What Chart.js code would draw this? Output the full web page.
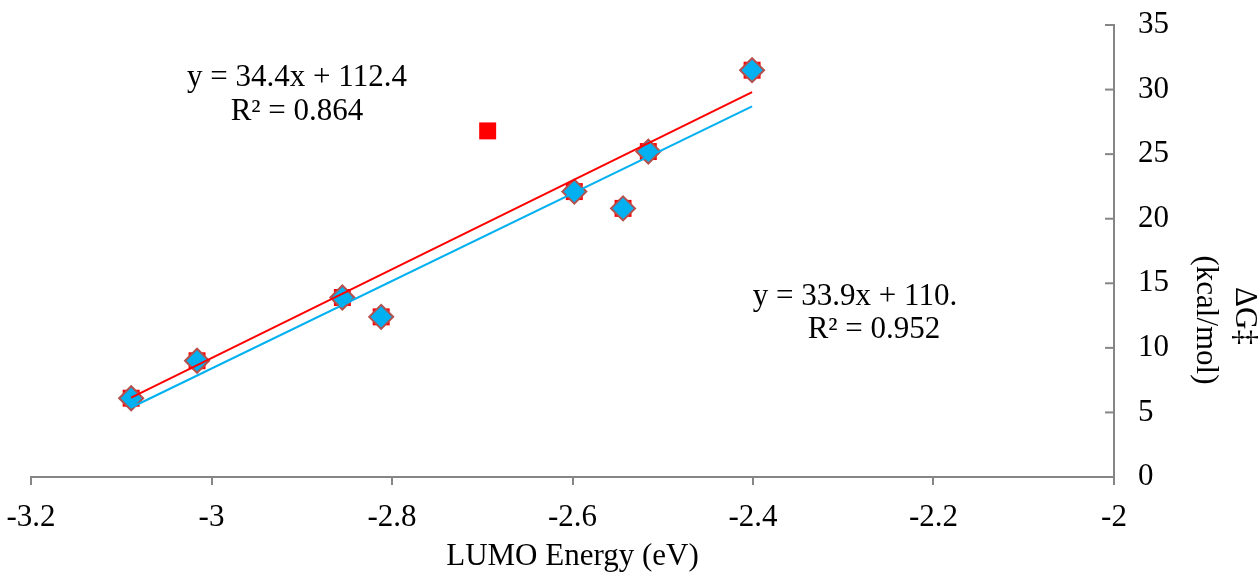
<!DOCTYPE html>
<html>
<head>
<meta charset="utf-8">
<script src="https://cdn.jsdelivr.net/npm/chart.js@4"></script>
<style>
  html, body { margin: 0; padding: 0; background: #fff; }
  #wrap { width: 1260px; height: 575px; }
</style>
</head>
<body>
<div id="wrap"><canvas id="chart" width="1260" height="575"></canvas></div>
<script>
// LUMO energy (eV) vs barrier (kcal/mol)
const lumoAll = [-3.089, -3.016, -2.855, -2.812, -2.598, -2.544, -2.516, -2.401, -2.694];
const dgAll   = [6.1, 9.0, 13.9, 12.4, 22.1, 20.8, 25.2, 31.5, 26.8];
// same set without the outlier
const lumoFit = [-3.089, -3.016, -2.855, -2.812, -2.598, -2.544, -2.516, -2.401];
const dgFit   = [6.1, 9.0, 13.9, 12.4, 22.1, 20.8, 25.2, 31.5];

// trend lines as printed on the chart
const redTrend  = { slope: 34.4, intercept: 112.4 };
const blueTrend = { slope: 33.9, intercept: 110.1 };
const redLabel  = ['y = 34.4x + 112.4', 'R\u00b2 = 0.864'];
const blueLabel = ['y = 33.9x + 110.', 'R\u00b2 = 0.952'];

const xTicks = [-3.2, -3, -2.8, -2.6, -2.4, -2.2, -2];
const xTickLabels = ['-3.2', '-3', '-2.8', '-2.6', '-2.4', '-2.2', '-2'];
const yTicks = [0, 5, 10, 15, 20, 25, 30, 35];

const FONT = '"Liberation Serif", "Times New Roman", serif';
const FSIZE = 31;
const AXIS = '#868686';

function toPts(xs, ys) {
    return xs.map((x, i) => ({ x: x, y: ys[i] }));
}

function trendPts(xs, t) {
    const lo = Math.min(...xs), hi = Math.max(...xs);
    return [{ x: lo, y: t.slope * lo + t.intercept }, { x: hi, y: t.slope * hi + t.intercept }];
}

// tick marks of the right axis point into the plot, and the text labels
const extras = {
    id: 'extras',
    afterDraw(chart) {
        const ctx = chart.ctx;
        const ys = chart.scales.y;
        const axisX = ys.left;
        ctx.save();
        ctx.strokeStyle = AXIS;
        ctx.lineWidth = 2;
        yTicks.forEach(v => {
            const py = ys.getPixelForValue(v);
            ctx.beginPath();
            ctx.moveTo(axisX - 9, py);
            ctx.lineTo(axisX, py);
            ctx.stroke();
        });

        ctx.fillStyle = '#000';
        ctx.font = FSIZE + 'px ' + FONT;
        ctx.textAlign = 'center';
        ctx.textBaseline = 'middle';
        ctx.fillText(redLabel[0], 297, 78);
        ctx.fillText(redLabel[1], 297, 112);
        ctx.fillText(blueLabel[0], 855, 297);
        ctx.fillText(blueLabel[1], 874, 330);

        // y axis title, turned to read downward
        ctx.save();
        ctx.translate(1244, 316);
        ctx.rotate(Math.PI / 2);
        ctx.fillText('\u0394G\u2021', 0, 0);
        ctx.restore();
        ctx.save();
        ctx.translate(1205, 320);
        ctx.rotate(Math.PI / 2);
        ctx.fillText('(kcal/mol)', 0, 0);
        ctx.restore();
        ctx.restore();
    }
};

new Chart(document.getElementById('chart'), {
    type: 'scatter',
    data: {
        datasets: [
            {
                type: 'line',
                data: trendPts(lumoAll, redTrend),
                borderColor: '#FF0000',
                borderWidth: 2,
                pointRadius: 0,
                fill: false,
                order: 0
            },
            {
                type: 'line',
                data: trendPts(lumoFit, blueTrend),
                borderColor: '#00B0F0',
                borderWidth: 2,
                pointRadius: 0,
                fill: false,
                order: 0
            },
            {
                data: toPts(lumoFit, dgFit),
                pointStyle: 'rectRot',
                pointRadius: 12,
                backgroundColor: '#00B0F0',
                borderColor: '#B5504D',
                borderWidth: 2,
                order: 1
            },
            {
                data: toPts(lumoAll, dgAll),
                pointStyle: 'rect',
                pointRadius: 12,
                backgroundColor: '#FF0000',
                borderColor: '#FF0000',
                borderWidth: 0,
                order: 2
            }
        ]
    },
    options: {
        responsive: false,
        animation: false,
        layout: { padding: { left: 31, top: 25, right: 0, bottom: 0 } },
        plugins: {
            legend: { display: false },
            tooltip: { enabled: false }
        },
        scales: {
            x: {
                type: 'linear',
                position: 'bottom',
                min: -3.2,
                max: -2,
                afterBuildTicks: s => { s.ticks = xTicks.map(v => ({ value: v })); },
                afterFit: s => { s.height = 98; s.paddingLeft = 0; s.paddingRight = 0; },
                grid: { drawOnChartArea: false, drawTicks: true, tickLength: 8, color: AXIS, lineWidth: 2 },
                border: { display: true, color: AXIS, width: 2 },
                ticks: {
                    color: '#000',
                    font: { family: FONT, size: FSIZE },
                    padding: 14,
                    maxRotation: 0,
                    callback: (v, i) => xTickLabels[i]
                },
                title: {
                    display: true,
                    text: 'LUMO Energy (eV)',
                    color: '#000',
                    font: { family: FONT, size: FSIZE },
                    padding: { top: 0, bottom: 0 }
                }
            },
            y: {
                type: 'linear',
                position: 'right',
                min: 0,
                max: 35,
                afterBuildTicks: s => { s.ticks = yTicks.map(v => ({ value: v })); },
                afterFit: s => { s.width = 146; s.paddingTop = 0; s.paddingBottom = 0; },
                grid: { drawOnChartArea: false, drawTicks: false },
                border: { display: true, color: AXIS, width: 2 },
                ticks: { color: '#000', font: { family: FONT, size: FSIZE }, padding: 24 }
            }
        }
    },
    plugins: [extras]
});
</script>
</body>
</html>
